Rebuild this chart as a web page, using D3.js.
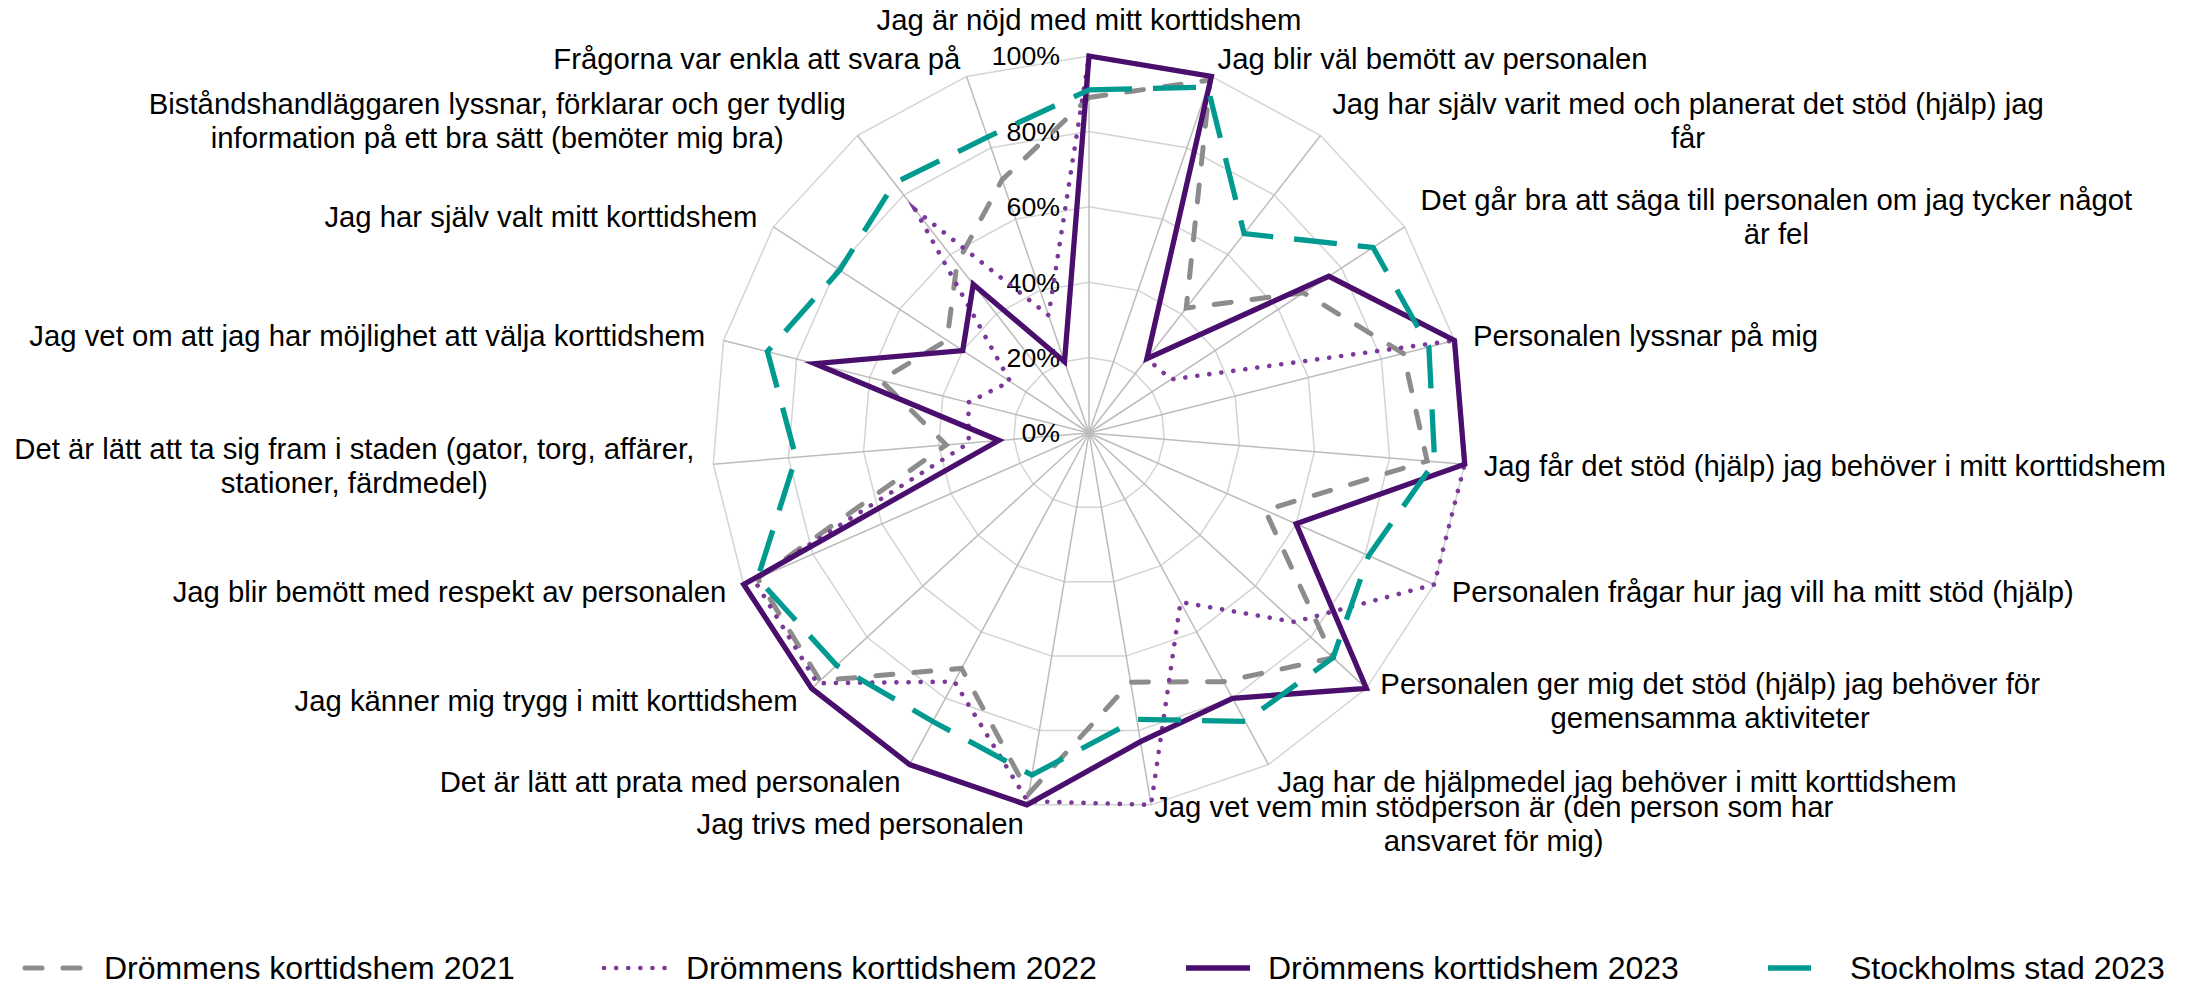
<!DOCTYPE html>
<html><head><meta charset="utf-8">
<script src="https://cdn.jsdelivr.net/npm/d3@7"></script>
<style>
body{margin:0;background:#fff}
svg{display:block}
text{font-family:"Liberation Sans",Arial,sans-serif;fill:#000}
</style>
</head><body>
<svg id="chart" width="2198" height="990"></svg>
<script>
// ---------- DATA ----------
const categories = [
  "Jag är nöjd med mitt korttidshem",
  "Jag blir väl bemött av personalen",
  "Jag har själv varit med och planerat det stöd (hjälp) jag\nfår",
  "Det går bra att säga till personalen om jag tycker något\när fel",
  "Personalen lyssnar på mig",
  "Jag får det stöd (hjälp) jag behöver i mitt korttidshem",
  "Personalen frågar hur jag vill ha mitt stöd (hjälp)",
  "Personalen ger mig det stöd (hjälp) jag behöver för\ngemensamma aktiviteter",
  "Jag har de hjälpmedel jag behöver i mitt korttidshem",
  "Jag vet vem min stödperson är (den person som har\nansvaret för mig)",
  "Jag trivs med personalen",
  "Det är lätt att prata med personalen",
  "Jag känner mig trygg i mitt korttidshem",
  "Jag blir bemött med respekt av personalen",
  "Det är lätt att ta sig fram i staden (gator, torg, affärer,\nstationer, färdmedel)",
  "Jag vet om att jag har möjlighet att välja korttidshem",
  "Jag har själv valt mitt korttidshem",
  "Biståndshandläggaren lyssnar, förklarar och ger tydlig\ninformation på ett bra sätt (bemöter mig bra)",
  "Frågorna var enkla att svara på"
];
const seriesNames = ["Drömmens korttidshem 2021", "Drömmens korttidshem 2022", "Drömmens korttidshem 2023", "Stockholms stad 2023"];
const values2021 = [89, 99, 42, 68, 86, 90, 51, 88, 75, 67, 97, 71, 97, 96, 38, 57, 45, 57, 71];
const values2022 = [100, 100, 25, 26, 100, 100, 100, 74, 51, 100, 99, 75, 98, 97, 32, 33, 25, 75, 33];
const values2023 = [100, 100, 25, 76, 100, 100, 60, 100, 80, 83, 100, 100, 100, 100, 24, 75, 40, 50, 20];
const valuesStockholm = [91, 97, 67, 90, 93, 92, 81, 88, 87, 77, 92, 87, 91, 96, 78, 88, 79, 84, 83];
const tickValues = [0, 20, 40, 60, 80, 100];

// ---------- STYLES ----------
const styles = [
  {color:"#8c8c8c", width:5,   dash:"17,21", cap:"round"},
  {color:"#7b3a9a", width:4.6, dash:"0.1,12", cap:"round"},
  {color:"#4a0f6c", width:5.3, dash:null,    cap:"butt"},
  {color:"#009a90", width:5.3, dash:"43,21", cap:"butt"}
];
const seriesValues = [values2021, values2022, values2023, valuesStockholm];

const svg = d3.select("#chart");
svg.append("rect").attr("width",2198).attr("height",990).attr("fill","#fff");

const cx = 1089, cy = 433, R = 377;
const n = categories.length;
const r = d3.scaleLinear().domain([0,100]).range([0,R]);
const ang = d3.scaleLinear().domain([0,n]).range([0, 2*Math.PI]);

const g = svg.append("g").attr("transform",`translate(${cx},${cy})`);

// rings
const ringLine = d3.lineRadial().angle((d,i)=>ang(i)).radius(d=>r(d)).curve(d3.curveLinearClosed);
tickValues.filter(t=>t>0).forEach(t=>{
  g.append("path").attr("d", ringLine(categories.map(()=>t)))
   .attr("fill","none").attr("stroke","#d4d4d4").attr("stroke-width",1.5);
});
// spokes
categories.forEach((c,i)=>{
  const a = ang(i);
  g.append("line").attr("x1",0).attr("y1",0)
   .attr("x2", r(100)*Math.sin(a)).attr("y2", -r(100)*Math.cos(a))
   .attr("stroke","#bcbcbc").attr("stroke-width",1.5);
});

// tick labels
tickValues.forEach(t=>{
  g.append("text").attr("x",-29).attr("y",-r(t)).attr("dy","0.35em")
   .attr("text-anchor","end").style("font-size","26.7px").text(t+"%");
});

// series
const seriesLine = d3.lineRadial().angle((d,i)=>ang(i)).radius(d=>r(d)).curve(d3.curveLinearClosed);
seriesValues.forEach((vals,k)=>{
  const s = styles[k];
  g.append("path").attr("d", seriesLine(vals))
   .attr("fill","none").attr("stroke",s.color).attr("stroke-width",s.width)
   .attr("stroke-linejoin","miter").attr("stroke-miterlimit",10)
   .attr("stroke-linecap",s.cap)
   .attr("stroke-dasharray",s.dash);
});

// category labels
const fs = 29.3, lh = 34, gap = 19;
categories.forEach((c,i)=>{
  const a = ang(i);
  const sn = Math.sin(a), cs = Math.cos(a);
  const px = (R+gap)*sn, py = -(R+gap)*cs;
  const lines = c.split("\n");
  const t = g.append("text").style("font-size",fs+"px").attr("text-anchor","middle");
  const spans = lines.map(l=>t.append("tspan").text(l));
  let w = 0;
  spans.forEach(sp=>{ w = Math.max(w, sp.node().getComputedTextLength()); });
  const h = lines.length*lh;
  let bx, by; // box center
  if (Math.abs(sn) < 0.05) {
    bx = px;
    by = cs > 0 ? py - h/2 : py + h/2;
  } else if (sn > 0) {
    bx = px + w/2; by = py;
  } else {
    bx = px - w/2; by = py;
  }
  spans.forEach((sp,j)=>{
    sp.attr("x",bx).attr("y", by - h/2 + lh*(j+0.5)).attr("dy","0.35em");
  });
});

// legend
const ly = 968;
seriesNames.forEach((name,k)=>{
  const s = styles[k];
  const x0 = 22 + k*582;
  svg.append("line").attr("x1",x0).attr("x2",x0+64).attr("y1",ly).attr("y2",ly)
    .attr("stroke",s.color).attr("stroke-width",s.width)
    .attr("stroke-linecap",s.cap).attr("stroke-dasharray",s.dash)
    .attr("stroke-dashoffset", k===0 ? -3 : 0);
  svg.append("text").attr("x",x0+82).attr("y",ly).attr("dy","0.35em")
    .style("font-size","32px").text(name);
});
</script>
</body></html>
